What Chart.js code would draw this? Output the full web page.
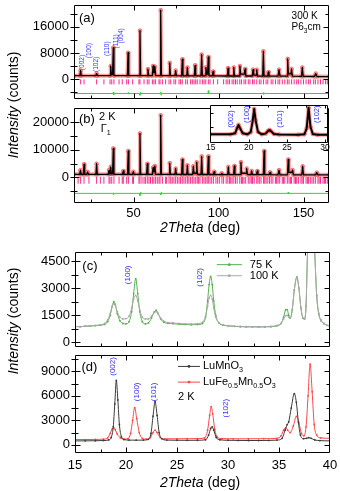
<!DOCTYPE html>
<html><head><meta charset="utf-8">
<script src="https://cdn.jsdelivr.net/npm/chart.js@4.4.1/dist/chart.umd.min.js"></script>
<style>
html,body{margin:0;padding:0;background:#fff;}
#wrap{position:relative;width:340px;height:491px;overflow:hidden;font-family:"Liberation Sans",Arial,sans-serif;}
canvas{position:absolute;}
.t{position:absolute;white-space:nowrap;font-size:14px;color:#000;transform:translate(-50%,-50%);line-height:1;}
.r{transform:translate(-50%,-50%) rotate(-90deg);}
</style></head><body>
<div id="wrap">
<canvas id="cA" width="340" height="104" style="left:0px;top:0px"></canvas>
<canvas id="cB" width="340" height="122" style="left:0px;top:103px"></canvas>
<canvas id="cI" width="136" height="56" style="left:200px;top:100px"></canvas>
<canvas id="cC" width="340" height="103" style="left:0px;top:248px"></canvas>
<canvas id="cD" width="340" height="140" style="left:0px;top:351px"></canvas>
<div class="t r" style="left:12.5px;top:105px"><i>Intensity</i> (counts)</div>
<div class="t r" style="left:12.5px;top:321px"><i>Intensity</i> (counts)</div>
<div class="t" style="left:200px;top:227px"><i>2Theta</i> (deg)</div>
<div class="t" style="left:200px;top:482px"><i>2Theta</i> (deg)</div>
</div>
<script>
// ---------- DATA ----------
// Panel (a): 300 K, observed/calculated profile [2theta, counts]
const patternA = [[15,1050],[18.5,1050],[18.9,2620],[19.3,1050],[27.9,1050],[28.3,1690],[28.7,1050],
[36.2,1050],[36.6,4030],[37.0,1400],[37.7,1400],[38.1,9660],[38.5,1050],[46.4,1050],[46.8,8080],[47.2,1050],
[53.4,1050],[53.8,14850],[54.2,1050],[58.1,1050],[58.5,3100],[58.9,1050],
[61.1,1050],[61.5,4030],[61.9,2000],[62.2,2000],[62.6,3800],[63.0,1050],[65.6,1050],[66.0,21130],[66.4,1050],
[70.9,1050],[71.3,4990],[71.7,1050],[74.4,1050],[74.8,2620],[75.2,1050],[78.3,1000],[78.7,6110],[79.1,1000],
[81.3,1000],[81.7,3580],[82.1,1000],[85.8,1000],[86.2,4230],[86.6,1000],[89.7,1000],[90.1,7520],[90.5,1000],
[92.2,1000],[92.6,3580],[93.0,1500],[93.6,1500],[94.0,6800],[94.4,1000],[96.4,1000],[96.8,2340],[97.2,1000],
[105.2,950],[105.6,3380],[106.0,950],[108.6,950],[109.0,3580],[109.4,950],
[112.2,950],[112.6,4030],[113.0,1500],[115.2,1500],[115.6,3100],[116.0,950],
[119.9,950],[120.3,2900],[120.7,1200],[122.1,1200],[122.5,2900],[122.9,950],
[126.0,900],[126.4,8540],[126.8,900],[128.9,900],[129.3,2170],[129.7,900],[135.0,900],[135.6,2900],[136.2,900],
[140.3,900],[140.7,6200],[141.1,1600],[142.6,1600],[143.0,3100],[143.4,900],
[148.8,850],[149.3,3580],[149.8,850],[156.5,800],[157.2,1690],[157.9,800],[165,760]];
const diffA = [[15,-4420],[37.9,-4420],[38.1,-4050],[38.35,-4850],[38.6,-4420],[46.7,-4420],[46.85,-4150],[47.0,-4600],[47.2,-4420],
[53.6,-4420],[53.8,-4950],[54.05,-4150],[54.3,-4420],[65.8,-4420],[66.0,-3950],[66.25,-4900],[66.5,-4420],
[93.8,-4420],[94.0,-3550],[94.25,-4500],[94.5,-4420],[126.3,-4420],[126.5,-4100],[126.75,-4650],[127.0,-4420],[165,-4420]];
const braggA = [18.9,20.9,28.3,32.6,36.2,37.2,38.5,41.5,43.4,46.0,47.0,49.5,53.2,53.8,56.2,58.1,59.1,61.1,62.0,63.0,65.0,65.6,67.0,68.9,70.9,71.9,73.8,74.8,76.8,77.7,78.7,80.7,81.7,83.6,84.6,85.6,86.6,87.5,89.1,90.5,91.5,92.5,94.0,95.0,97.0,99.5,103.0,104.5,105.5,106.5,108.0,109.0,110.0,111.0,112.5,113.5,115.0,116.0,117.5,118.5,120.0,121.0,122.5,124.0,125.0,126.5,128.0,129.0,131.0,132.0,133.5,135.0,136.0,137.5,139.0,140.5,141.5,143.0,144.5,146.0,147.0,148.5,150.0,151.5,153.0,154.0,156.0,157.0,158.5,160.0,161.5,163.0,164.0];

// Panel (b): 2 K
const patternB = [[15,1100],[18.4,1100],[18.8,2600],[19.2,1100],[20.5,1100],[20.9,4800],[21.3,1100],[22.6,1100],[23.0,2000],[23.4,1100],
[27.9,1100],[28.3,4970],[28.7,1100],[35.2,1100],[35.6,2670],[36.0,1300],[36.3,1300],[36.6,3820],[37.0,1300],[37.7,1300],[38.1,10520],[38.5,1100],
[43.6,1100],[44.0,2330],[44.4,1100],[46.5,1100],[46.9,9620],[47.3,1100],[49.5,1100],[49.9,2080],[50.3,1100],
[53.4,1100],[53.8,15970],[54.2,1100],[57.7,1100],[58.1,4970],[58.5,1100],
[61.1,1100],[61.5,3580],[61.9,2000],[62.2,2000],[62.6,4170],[63.0,1100],[65.6,1100],[66.0,22570],[66.4,1100],
[70.9,1100],[71.3,5210],[71.7,1100],[74.4,1100],[74.8,3230],[75.2,1100],[78.3,1050],[78.7,6490],[79.1,1050],
[81.3,1050],[81.7,4410],[82.1,1050],[84.8,1050],[85.2,4060],[85.6,1500],[86.8,1500],[87.2,5500],[87.6,1050],
[89.7,1050],[90.1,7640],[90.5,1050],[93.6,1050],[94.0,7640],[94.4,1050],[97.0,1050],[97.4,2080],[97.8,1050],
[101.5,1000],[101.9,1490],[102.3,1000],[105.4,1000],[105.8,3820],[106.2,1000],[108.9,1000],[109.3,4170],[109.7,1000],
[112.8,1000],[113.2,5560],[113.6,1500],[116.2,1500],[116.6,3230],[117.0,1000],[119.1,1000],[119.5,2330],[119.9,1000],
[122.4,1000],[122.8,2330],[123.2,1000],[126.4,1000],[126.8,9620],[127.2,1000],[129.9,1000],[130.3,1840],[130.7,1000],
[135.0,950],[135.6,2670],[136.2,950],[140.6,950],[141.0,6490],[141.4,1800],[143.2,1800],[143.6,2670],[144.0,950],
[149.0,950],[149.5,4060],[150.0,950],[157.2,950],[157.8,1740],[158.4,950],[165,940]];
const diffB = [[15,-5800],[37.9,-5800],[38.1,-6300],[38.35,-5600],[38.6,-5800],[53.6,-5800],[53.8,-6600],[54.05,-5500],[54.3,-5800],
[65.8,-5800],[66.0,-6400],[66.25,-5500],[66.5,-5800],[140.8,-5800],[141.0,-5350],[141.25,-5900],[141.5,-5800],[165,-5800]];
const braggB = [17.4,18.9,20.9,23.8,28.3,30.5,32.6,35.6,36.2,37.2,38.5,41.5,43.4,44.0,46.0,47.0,49.5,50.0,53.2,53.8,55.0,56.2,57.0,58.1,59.1,60.0,61.1,62.0,63.0,64.0,65.0,65.6,67.0,68.9,69.5,70.9,71.9,72.8,73.8,74.8,75.8,76.8,77.7,78.7,79.7,80.7,81.7,82.6,83.6,84.6,85.6,86.6,87.5,88.3,89.1,90.5,91.5,92.5,93.3,94.0,95.0,96.0,97.0,98.5,99.5,100.5,102.0,103.0,104.5,105.5,106.5,107.2,108.0,109.0,110.0,111.0,112.5,113.5,114.2,115.0,116.0,117.5,118.5,119.3,120.0,121.0,122.5,123.2,124.0,125.0,126.5,127.2,128.0,129.0,130.0,131.0,132.0,133.5,134.2,135.0,136.0,137.5,138.2,139.0,140.5,141.5,142.3,143.0,144.5,145.3,146.0,147.0,148.5,149.2,150.0,151.5,152.3,153.0,154.0,155.0,156.0,157.0,158.5,159.2,160.0,161.5,162.3,163.0,164.0];

// Inset of (b): 15-30 deg
const patternInset = [[14.9,950],[17.6,950],[18.2,1100],[18.45,1800],[18.65,2280],[18.85,1800],[19.2,1100],[19.8,950],[20.25,1250],[20.5,2800],[20.7,4520],[20.9,2900],[21.2,1300],[21.7,950],[22.2,1050],[22.5,1400],[22.7,1570],[22.9,1400],[23.3,1000],[24,920],[26.5,900],[27.3,950],[27.6,1800],[27.85,4700],[28.1,2000],[28.4,1000],[29,900],[30.4,900]];

// Panel (c): LuFe0.5Mn0.5O3 at 75 K and 100 K
const c75K = [[15,880],[15.5,870],[16,900],[16.5,910],[17,930],[17.5,960],[17.9,1000],[18.2,1150],[18.45,1500],[18.65,2000],[18.8,2250],[18.95,2100],[19.15,1600],[19.4,1200],[19.7,1050],[20.0,1030],[20.3,1150],[20.55,1700],[20.75,2700],[20.95,3530],[21.15,2700],[21.35,1700],[21.6,1150],[21.9,1030],[22.2,1080],[22.5,1350],[22.75,1680],[22.95,1780],[23.15,1600],[23.4,1300],[23.7,1120],[24.1,1060],[24.6,1040],[25.2,1010],[25.8,990],[26.4,980],[27.0,990],[27.5,1050],[27.8,1400],[28.0,2300],[28.15,3200],[28.3,3650],[28.45,3200],[28.6,2300],[28.8,1500],[29.1,1080],[29.5,960],[30,920],[30.6,890],[31.2,870],[31.8,860],[32.4,860],[33,855],[33.6,860],[34.2,870],[34.8,920],[35.2,1050],[35.45,1400],[35.65,1800],[35.8,1820],[35.95,1500],[36.1,1350],[36.3,1800],[36.5,2900],[36.75,3620],[36.95,3000],[37.15,1900],[37.35,1350],[37.5,1300],[37.65,2000],[37.8,5000],[38.15,9500],[38.5,5000],[38.7,2600],[38.9,1600],[39.1,1250],[39.4,1050],[39.7,950],[40,900]];
const c100K = [[15,880],[15.5,880],[16,900],[16.5,920],[17,940],[17.5,980],[17.9,1050],[18.2,1250],[18.45,1600],[18.65,2000],[18.8,2150],[18.95,2050],[19.15,1700],[19.4,1400],[19.7,1300],[20.0,1320],[20.3,1450],[20.55,1900],[20.75,2400],[20.95,2600],[21.15,2300],[21.35,1800],[21.6,1400],[21.9,1300],[22.2,1300],[22.5,1450],[22.75,1650],[22.95,1700],[23.15,1580],[23.4,1350],[23.7,1180],[24.1,1100],[24.6,1080],[25.2,1050],[25.8,1030],[26.4,1020],[27.0,1040],[27.5,1120],[27.8,1450],[28.0,2000],[28.15,2450],[28.3,2600],[28.45,2400],[28.6,1900],[28.8,1400],[29.1,1100],[29.5,980],[30,930],[30.6,900],[31.2,890],[31.8,880],[32.4,880],[33,870],[33.6,880],[34.2,890],[34.8,940],[35.2,1060],[35.45,1300],[35.65,1480],[35.8,1500],[35.95,1400],[36.1,1350],[36.3,1800],[36.5,2900],[36.75,3600],[36.95,3000],[37.15,1900],[37.35,1350],[37.5,1300],[37.65,2000],[37.8,5000],[38.15,9000],[38.5,5000],[38.7,2500],[38.9,1550],[39.1,1200],[39.4,1050],[39.7,950],[40,920]];

// Panel (d): 2 K, LuMnO3 vs LuFe0.5Mn0.5O3
const dLuMnO3 = [[15,480],[16,490],[17,500],[17.8,530],[18.3,600],[18.55,900],[18.75,2200],[18.9,5000],[19.05,7880],[19.2,5500],[19.35,2500],[19.55,1000],[19.8,650],[20.3,580],[21,570],[21.7,580],[22.2,680],[22.45,1400],[22.65,3500],[22.85,5280],[23.05,3600],[23.25,1500],[23.5,750],[24,580],[25,560],[26,550],[27,560],[27.8,620],[28.1,1200],[28.3,2000],[28.45,2200],[28.6,1800],[28.85,900],[29.2,620],[30,560],[31,540],[32,530],[33,530],[34,540],[34.8,580],[35.3,800],[35.6,1800],[35.8,2480],[35.95,2800],[36.2,4500],[36.5,6280],[36.7,5200],[36.9,2800],[37.1,1200],[37.4,750],[37.7,800],[37.9,880],[38.15,800],[38.5,600],[39,520],[40,480]];
const dLuFeMn = [[15,640],[16,650],[17,660],[17.8,700],[18.2,850],[18.45,1400],[18.65,1950],[18.8,2080],[18.95,1850],[19.15,1300],[19.45,850],[19.8,700],[20.2,750],[20.45,1400],[20.65,3000],[20.85,4560],[21.05,3200],[21.3,1500],[21.6,800],[22.0,700],[22.4,900],[22.65,1500],[22.85,1800],[23.05,1500],[23.35,900],[23.8,740],[25,740],[26,750],[27,760],[27.7,850],[28.0,1800],[28.2,3600],[28.35,4680],[28.5,3800],[28.7,1900],[28.95,950],[29.4,760],[30.5,740],[32,740],[33.5,750],[34.8,800],[35.2,1100],[35.45,1800],[35.65,2080],[35.85,1800],[36.1,1500],[36.4,2300],[36.7,3480],[36.95,2700],[37.2,1400],[37.45,1100],[37.65,2200],[37.85,6000],[38.05,9880],[38.25,6500],[38.45,2500],[38.7,1200],[39.1,850],[40,800]];

// Ticks
const xTicksAB = [25,50,75,100,125,150], xLabelsAB = [50,100,150];
const yTicksA = [-4000,0,4000,8000,12000,16000,20000], yLabelsA = [0,8000,16000];
const yTicksB = [-5000,0,5000,10000,15000,20000], yLabelsB = [0,10000,20000];
const xTicksInset = [15,17.5,20,22.5,25,27.5,30], xLabelsInset = [15,20,25,30];
const yTicksInset = [2000,4000];
const xTicksCD = [15,17.5,20,22.5,25,27.5,30,32.5,35,37.5,40], xLabelsCD = [15,20,25,30,35,40];
const yTicksC = [0,750,1500,2250,3000,3750,4500], yLabelsC = [0,1500,3000,4500];
const yTicksD = [0,1500,3000,4500,6000,7500,9000,10500], yLabelsD = [0,3000,6000,9000];

// ---------- RENDERING ----------
const FAM = '"Liberation Sans", Arial, sans-serif';
Chart.defaults.font.family = FAM;
const BLUE = '#2f2fff', PINK = '#ff2a8a', GREEN = '#55b04a', GREY = '#a9a9a9', DARK = '#3a3a3a', RED = '#ff4646';

const framePlugin = {
  id: 'frame',
  beforeDatasetsDraw(chart, args, o) {
    if (!o.fill) return;
    const a = chart.chartArea, ctx = chart.ctx;
    ctx.save(); ctx.fillStyle = o.fill; ctx.fillRect(a.left, a.top, a.right - a.left, a.bottom - a.top); ctx.restore();
  },
  afterDraw(chart, args, o) {
    const ctx = chart.ctx, a = chart.chartArea, xs = chart.scales.x, ys = chart.scales.y;
    const L = Math.round(a.left) + 0.5, R = Math.round(a.right) - 0.5, T = Math.round(a.top) + 0.5, B = Math.round(a.bottom) - 0.5;
    const maj = o.major || 5, mnr = o.minor || 3, out = o.out || 0;
    ctx.save(); ctx.strokeStyle = '#000'; ctx.lineWidth = 1; ctx.beginPath();
    ctx.rect(L, T, R - L, B - T);
    (o.xTicks || []).forEach(v => {
      const p = Math.round(xs.getPixelForValue(v)) + 0.5;
      if (p <= L + 1 || p >= R - 1) return;
      const len = (o.xMajor || []).includes(v) ? maj : mnr;
      ctx.moveTo(p, B); ctx.lineTo(p, B - len); ctx.moveTo(p, T); ctx.lineTo(p, T + len);
    });
    (o.yTicks || []).forEach(v => {
      const p = Math.round(ys.getPixelForValue(v)) + 0.5;
      if (p <= T + 1 || p >= B - 1) return;
      const len = (o.yMajor || []).includes(v) ? maj : mnr;
      ctx.moveTo(L - out, p); ctx.lineTo(L + len, p); ctx.moveTo(R, p); ctx.lineTo(R - len, p);
    });
    ctx.stroke(); ctx.restore();
  }
};

function fontFor(p, size) {
  const s = p.sub ? size * 0.65 : size;
  return (p.it ? 'italic ' : '') + s + 'px ' + FAM;
}
function drawRich(ctx, parts, size, align) {
  const w = parts.map(p => { ctx.font = fontFor(p, size); return ctx.measureText(p.t).width; });
  const total = w.reduce((s, v) => s + v, 0);
  let x = align === 'center' ? -total / 2 : (align === 'right' ? -total : 0);
  parts.forEach((p, i) => { ctx.font = fontFor(p, size); ctx.fillText(p.t, x, p.sub ? size * 0.32 : 0); x += w[i]; });
}
const T = t => ({t}), S = t => ({t, sub: true});

const annotPlugin = {
  id: 'annot',
  afterDatasetsDraw(chart, args, o) {
    const ctx = chart.ctx, xs = chart.scales.x, ys = chart.scales.y;
    (o.items || []).forEach(it => {
      ctx.save();
      ctx.textBaseline = 'middle';
      ctx.fillStyle = it.color || '#000';
      if (it.legend) {
        const x1 = xs.getPixelForValue(it.x1), x2 = xs.getPixelForValue(it.x2), py = ys.getPixelForValue(it.y);
        ctx.strokeStyle = it.line; ctx.lineWidth = 1;
        ctx.beginPath(); ctx.moveTo(x1, py); ctx.lineTo(x2, py); ctx.stroke();
        ctx.fillStyle = it.line;
        ctx.beginPath(); ctx.arc((x1 + x2) / 2, py, 1.4, 0, Math.PI * 2); ctx.fill();
        ctx.fillStyle = '#000';
        ctx.translate(x2 + (it.gap || 4), py);
        drawRich(ctx, it.parts, it.size, 'left');
      } else {
        ctx.translate(xs.getPixelForValue(it.x), ys.getPixelForValue(it.y));
        if (it.rot) ctx.rotate(it.rot * Math.PI / 180);
        drawRich(ctx, it.parts, it.size, it.align || 'left');
      }
      ctx.restore();
    });
  }
};

const pts = arr => arr.map(([x, y]) => ({x, y}));
const obsSet = (arr) => ({data: pts(arr), showLine: true, borderColor: 'rgba(255,90,90,0.55)', borderWidth: 4, borderJoinStyle: 'round',
  pointRadius: 1.8, pointBorderColor: 'rgba(255,60,60,0.7)', pointBackgroundColor: 'rgba(255,255,255,0)', pointBorderWidth: 0.8, order: 3, clip: 0});
const calcSet = (arr, w) => ({data: pts(arr), showLine: true, borderColor: '#000', borderWidth: w || 1.3, borderJoinStyle: 'round', pointRadius: 0, order: 2, clip: 0});
const braggSet = (list, y, r) => ({data: list.map(x => ({x, y})), showLine: false, pointStyle: 'line', pointRotation: 90, pointRadius: r,
  pointBorderColor: PINK, pointBorderWidth: 1, order: 1, clip: 0});
const diffSet = arr => ({data: pts(arr), showLine: true, borderColor: '#22dd22', borderWidth: 1, pointRadius: 0, order: 1, clip: 0});
const lineSet = (arr, color, order) => ({data: pts(arr), showLine: true, borderColor: color, borderWidth: 1, cubicInterpolationMode: 'monotone',
  pointRadius: 0.9, pointBackgroundColor: color, pointBorderWidth: 0, order: order, clip: 0});

function panel(id, o) {
  const xLab = o.xLabels || [], yLab = o.yLabels || [];
  const xScale = {type: 'linear', min: o.xr[0], max: o.xr[1], position: 'bottom',
    grid: {display: false, drawTicks: false}, border: {display: false},
    ticks: {display: xLab.length > 0, padding: o.xPad || 0, font: {size: o.xFont || 13}, color: '#000', autoSkip: false, maxRotation: 0, minRotation: 0, callback: v => String(v)},
    afterFit: s => { s.height = o.xH; s.paddingLeft = 0; s.paddingRight = 0; s.paddingTop = 0; s.paddingBottom = 0; }};
  if (xLab.length) xScale.afterBuildTicks = s => { s.ticks = xLab.map(v => ({value: v})); };
  const yScale = {type: 'linear', min: o.yr[0], max: o.yr[1], position: 'left',
    grid: {display: false, drawTicks: false}, border: {display: false},
    ticks: {display: yLab.length > 0, padding: 5, font: {size: 13}, color: '#000', autoSkip: false, callback: v => String(v)},
    afterFit: s => { s.width = o.yW; s.paddingLeft = 0; s.paddingRight = 0; s.paddingTop = 0; s.paddingBottom = 0; }};
  if (yLab.length) yScale.afterBuildTicks = s => { s.ticks = yLab.map(v => ({value: v})); };
  return new Chart(document.getElementById(id), {
    type: 'scatter',
    data: {datasets: o.datasets},
    options: {
      responsive: false, animation: false, devicePixelRatio: 1, events: [],
      layout: {padding: o.pad},
      plugins: {legend: {display: false}, tooltip: {enabled: false}, frame: o.frame, annot: {items: o.annot || []}},
      scales: {x: xScale, y: yScale}
    },
    plugins: [framePlugin, annotPlugin]
  });
}

const miller = (t, x, y, size) => ({x, y, parts: [T(t)], size, color: BLUE, rot: -90, align: 'center'});

// (a)
panel('cA', {
  xr: [15, 165], yr: [-6100, 22700], yW: 74, xH: 0, pad: {top: 1, right: 11, bottom: 2, left: 0},
  yLabels: yLabelsA,
  datasets: [obsSet(patternA), calcSet(patternA), braggSet(braggA, -850, 2.5), diffSet(diffA)],
  frame: {xTicks: xTicksAB, xMajor: xLabelsAB, yTicks: yTicksA, yMajor: yLabelsA, out: 4},
  annot: [
    {x: 17.9, y: 18600, parts: [T('(a)')], size: 13},
    {x: 143, y: 19240, parts: [T('300 K')], size: 10},
    {x: 143, y: 15770, parts: [T('P6'), S('3'), T('cm')], size: 10},
    miller('(002)', 19.9, 5070, 6.5), miller('(100)', 23.8, 8730, 6.5), miller('(102)', 28.2, 4500, 6.5),
    miller('(110)', 34.7, 9300, 6.5), miller('(111)', 39.7, 11550, 6.5), miller('(004)', 42.9, 13240, 6.5)
  ]
});

// (b)
panel('cB', {
  xr: [15, 165], yr: [-9300, 25200], yW: 74, xH: 22, xPad: 3, pad: {top: 0, right: 11, bottom: 0, left: 0},
  xLabels: xLabelsAB, yLabels: yLabelsB,
  datasets: [obsSet(patternB), calcSet(patternB), braggSet(braggB, -1040, 3.5), diffSet(diffB)],
  frame: {xTicks: xTicksAB, xMajor: xLabelsAB, yTicks: yTicksB, yMajor: yLabelsB, out: 4},
  annot: [
    {x: 17.9, y: 21180, parts: [T('(b)')], size: 13},
    {x: 29.7, y: 21770, parts: [T('2 K')], size: 11},
    {x: 30.7, y: 17530, parts: [T('\u0393'), S('1')], size: 11}
  ]
});

// inset of (b)
panel('cI', {
  xr: [14.9, 30.4], yr: [-270, 5100], yW: 0, xH: 13, xPad: 0, xFont: 8.5, pad: {top: 3.5, right: 8, bottom: 0, left: 10},
  xLabels: xLabelsInset,
  datasets: [obsSet(patternInset), calcSet(patternInset, 2)],
  frame: {fill: '#fff', xTicks: xTicksInset, xMajor: xLabelsInset, yTicks: yTicksInset, yMajor: yTicksInset, major: 3, minor: 2},
  annot: [miller('(002)', 17.62, 3088, 7.5), miller('(100)', 19.72, 3768, 7.5), miller('(101)', 24.09, 3088, 7.5), miller('(102)', 28.92, 3768, 7.5)]
});

// (c)
panel('cC', {
  xr: [15, 40], yr: [-250, 5000], yW: 75, xH: 0, pad: {top: 1, right: 10, bottom: 2, left: 0},
  yLabels: yLabelsC,
  datasets: [lineSet(c75K, GREEN, 2), lineSet(c100K, GREY, 1)],
  frame: {xTicks: xTicksCD, xMajor: xLabelsCD, yTicks: yTicksC, yMajor: yLabelsC, out: 4},
  annot: [
    {x: 15.72, y: 4230, parts: [T('(c)')], size: 13},
    miller('(100)', 20.2, 3740, 8), miller('(102)', 27.24, 3600, 8),
    {legend: true, x1: 28.9, x2: 31.36, y: 4300, line: GREEN, gap: 8, parts: [T('75 K')], size: 11},
    {legend: true, x1: 28.9, x2: 31.36, y: 3690, line: GREY, gap: 8, parts: [T('100 K')], size: 11}
  ]
});

// (d)
panel('cD', {
  xr: [15, 40], yr: [-1000, 11000], yW: 75, xH: 38, xPad: 5, pad: {top: 1, right: 10, bottom: 0, left: 0},
  xLabels: xLabelsCD, yLabels: yLabelsD,
  datasets: [lineSet(dLuFeMn, RED, 2), lineSet(dLuMnO3, DARK, 1)],
  frame: {xTicks: xTicksCD, xMajor: xLabelsCD, yTicks: yTicksD, yMajor: yLabelsD, out: 4},
  annot: [
    {x: 15.63, y: 9470, parts: [T('(d)')], size: 13},
    miller('(002)', 18.73, 9600, 8), miller('(100)', 21.03, 6490, 8), miller('(101)', 22.72, 6490, 8), miller('(102)', 29.79, 4490, 8),
    {legend: true, x1: 25.1, x2: 27.25, y: 9600, line: DARK, gap: 3, parts: [T('LuMnO'), S('3')], size: 11},
    {legend: true, x1: 25.1, x2: 27.25, y: 7680, line: RED, gap: 3, parts: [T('LuFe'), S('0.5'), T('Mn'), S('0.5'), T('O'), S('3')], size: 11},
    {x: 25.1, y: 5890, parts: [T('2 K')], size: 11}
  ]
});
</script>
</body></html>
